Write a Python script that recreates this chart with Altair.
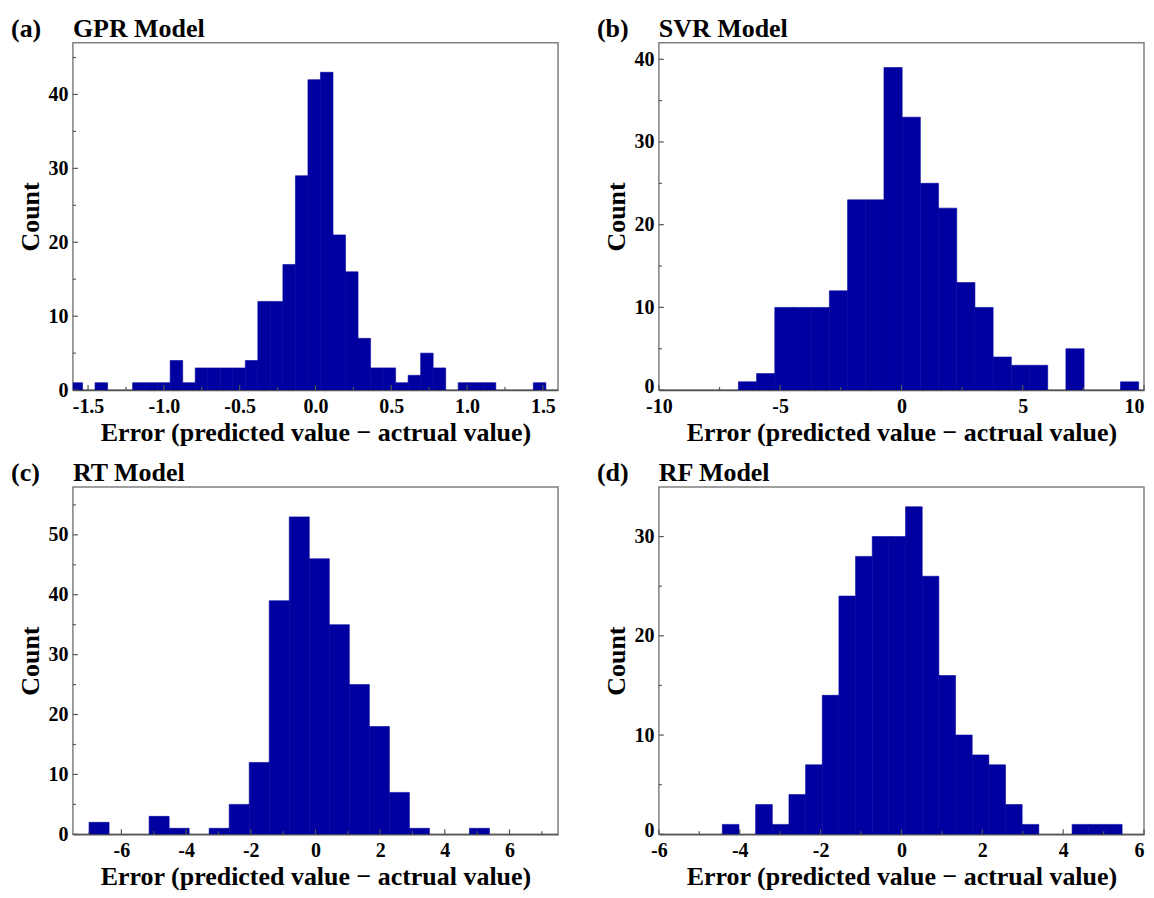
import altair as alt
import pandas as pd

FONT = "Liberation Serif"
BAR_COLOR = "#0000A0"
FRAME = "#808080"
XTITLE = "Error (predicted value \u2212 actrual value)"

# ---- data (histogram counts, bin start, bin width) ----
gpr_counts = [1, 0, 1, 0, 0, 1, 1, 1, 4, 1, 3, 3, 3, 3, 4, 12, 12, 17, 29, 42,
              43, 21, 16, 7, 3, 3, 1, 2, 5, 3, 0, 1, 1, 1, 0, 0, 0, 1]
gpr_bin = [-1.619, 0.0826]

svr_counts = [1, 2, 10, 10, 10, 12, 23, 23, 39, 33, 25, 22, 13, 10, 4, 3, 3, 0, 5, 0, 0, 1]
svr_bin = [-6.72, 0.75]

rt_counts = [2, 0, 0, 3, 1, 0, 1, 5, 12, 39, 53, 46, 35, 25, 18, 7, 1, 0, 0, 1]
rt_bin = [-7.0, 0.619]

rf_counts = [1, 0, 3, 1, 4, 7, 14, 24, 28, 30, 30, 33, 26, 16, 10, 8, 7, 3, 1, 0, 0, 1, 1, 1]
rf_bin = [-4.43, 0.412]

tags = ["(a)", "(b)", "(c)", "(d)"]
titles = ["GPR Model", "SVR Model", "RT Model", "RF Model"]
x_domains = [[-1.6, 1.6], [-10, 10], [-7.5, 7.5], [-6, 6]]
y_domains = [[0, 47], [0, 42], [0, 58], [0, 35]]
x_major = [[-1.5, -1.0, -0.5, 0.0, 0.5, 1.0, 1.5], [-10, -5, 0, 5, 10],
           [-6, -4, -2, 0, 2, 4, 6], [-6, -4, -2, 0, 2, 4, 6]]
x_minor = [[-1.25, -0.75, -0.25, 0.25, 0.75, 1.25], [-7.5, -2.5, 2.5, 7.5],
           [-7, -5, -3, -1, 1, 3, 5, 7], [-5, -3, -1, 1, 3, 5]]
y_major = [[0, 10, 20, 30, 40], [0, 10, 20, 30, 40], [0, 10, 20, 30, 40, 50], [0, 10, 20, 30]]
y_minor = [[5, 15, 25, 35, 45], [5, 15, 25, 35], [5, 15, 25, 35, 45, 55], [5, 15, 25]]
x_formats = [".1f", "d", "d", "d"]
zero_label_lift = [0, -4, 0, -4]

all_counts = [gpr_counts, svr_counts, rt_counts, rf_counts]
all_bins = [gpr_bin, svr_bin, rt_bin, rf_bin]

W, H = 486, 348


def panel(i):
    start, width = all_bins[i]
    counts = all_counts[i]
    df = pd.DataFrame({
        "x0": [start + k * width for k in range(len(counts))],
        "x1": [start + (k + 1) * width for k in range(len(counts))],
        "count": counts,
    })
    df = df[df["count"] > 0]
    xs = alt.Scale(domain=x_domains[i], nice=False, zero=False)
    ys = alt.Scale(domain=y_domains[i], nice=False, zero=False)
    fmt = x_formats[i]
    xmax = x_domains[i][1]
    xaxis = alt.Axis(
        values=x_major[i], title=XTITLE,
        labelExpr=f"(datum.value < 0 ? '-' : '') + format(abs(datum.value), '{fmt}')",
        labelAlign={"condition": {"test": f"datum.value >= {xmax}", "value": "right"},
                    "value": "center"},
        ticks=False, tickSize=0, grid=False, domain=True, domainColor="#555555",
        domainWidth=1.5, labelFont=FONT, labelFontSize=20, labelFontWeight="bold",
        labelColor="black", labelPadding=6, labelFlush=False, labelOverlap=False,
        titleFont=FONT, titleFontSize=26, titleFontWeight="bold", titleColor="black",
        titlePadding=3)
    yaxis = alt.Axis(
        values=y_major[i], title="Count", format="d",
        labelOffset={"condition": {"test": "datum.value == 0", "value": zero_label_lift[i]},
                     "value": 0},
        ticks=False, tickSize=0, grid=False, domain=False,
        labelFont=FONT, labelFontSize=20, labelFontWeight="bold", labelColor="black",
        labelPadding=5, labelFlush=False, labelOverlap=False,
        titleFont=FONT, titleFontSize=26, titleFontWeight="bold", titleColor="black",
        titlePadding=4)

    bars = alt.Chart(df).mark_rect(
        color=BAR_COLOR, stroke=BAR_COLOR, strokeWidth=0.6, clip=True).encode(
        x=alt.X("x0:Q", scale=xs, axis=xaxis),
        x2="x1:Q",
        y=alt.Y("count:Q", scale=ys, axis=yaxis),
        y2=alt.datum(0),
    )

    def xticks(vals, ln):
        return alt.Chart(pd.DataFrame({"x0": vals})).mark_rule(
            color="#555555", strokeWidth=1.2).encode(
            x=alt.X("x0:Q", scale=xs, axis=xaxis),
            y=alt.value(H), y2=alt.value(H - ln))

    def yticks(vals, ln):
        return alt.Chart(pd.DataFrame({"count": vals})).mark_rule(
            color="#555555", strokeWidth=1.2).encode(
            y=alt.Y("count:Q", scale=ys, axis=yaxis),
            x=alt.value(0), x2=alt.value(ln))

    heading = alt.Chart(alt.Data(values=[{"t": tags[i], "m": titles[i]}]))
    tag = heading.mark_text(
        align="left", baseline="alphabetic", font=FONT, fontSize=26,
        fontWeight="bold", color="black").encode(
        x=alt.value(-62), y=alt.value(-6), text="t:N")
    name = heading.mark_text(
        align="left", baseline="alphabetic", font=FONT, fontSize=26,
        fontWeight="bold", color="black").encode(
        x=alt.value(0), y=alt.value(-6), text="m:N")

    return alt.layer(
        bars, xticks(x_major[i], 5), xticks(x_minor[i], 3),
        yticks(y_major[i], 5), yticks(y_minor[i], 3), tag, name
    ).properties(width=W, height=H)


chart = alt.concat(
    *[panel(i) for i in range(4)], columns=2,
    spacing={"row": 97, "column": 101}, bounds="flush",
).properties(
    padding={"left": 2, "top": 6, "right": 0, "bottom": 2},
    background="white",
).configure_view(stroke=FRAME, strokeWidth=1.5)

chart.save("out.html", embed_options={"renderer": "svg", "actions": False})
